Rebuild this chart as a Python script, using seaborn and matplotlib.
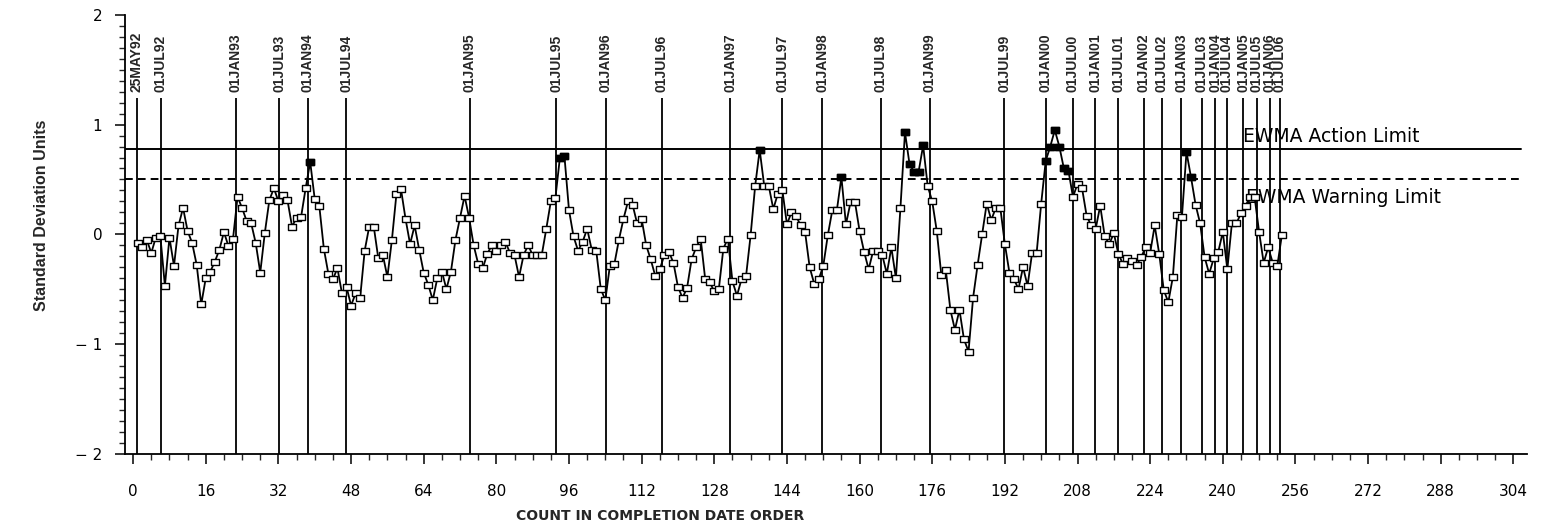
import numpy as np
import pandas as pd
import matplotlib
matplotlib.use("Agg")
import matplotlib.pyplot as plt
import seaborn as sns
from matplotlib.path import Path
from matplotlib.ticker import MultipleLocator

# ---------------- data ----------------
ewma_seg1 = [-0.08, -0.12, -0.05, -0.17, -0.03, -0.02, -0.47, -0.03, -0.29, 0.08,
             0.24, 0.03, -0.08, -0.28, -0.64, -0.40, -0.34, -0.25, -0.14, 0.02,
             -0.11, -0.04, 0.34, 0.24, 0.12, 0.10, -0.08, -0.35, 0.01, 0.31,
             0.42, 0.30, 0.36, 0.31, 0.07, 0.15, 0.16, 0.42, 0.66, 0.32, 0.26]
ewma_seg2 = [-0.13, -0.36, -0.41, -0.31, -0.54, -0.48, -0.65, -0.54, -0.58, -0.15,
             0.07, 0.07, -0.22, -0.19, -0.39, -0.05, 0.37, 0.41, 0.14, -0.09,
             0.08, -0.14, -0.35, -0.46, -0.60, -0.40, -0.34, -0.50, -0.34, -0.05,
             0.15, 0.35, 0.15, -0.10, -0.27, -0.31, -0.18, -0.10, -0.15, -0.10]
ewma_seg3 = [-0.07, -0.17, -0.19, -0.39, -0.19, -0.10, -0.19, -0.19, -0.19, 0.05,
             0.30, 0.33, 0.70, 0.71, 0.22, -0.02, -0.15, -0.07, 0.05, -0.14,
             -0.15, -0.50, -0.60, -0.29, -0.27, -0.05, 0.14, 0.30, 0.27, 0.10,
             0.14, -0.10, -0.23, -0.38, -0.32, -0.19, -0.16, -0.26, -0.48, -0.58,
             -0.49, -0.23, -0.12]
ewma_seg4 = [-0.04, -0.41, -0.44, -0.52, -0.50, -0.13, -0.04, -0.43, -0.56, -0.41,
             -0.38, -0.01, 0.44, 0.77, 0.44, 0.44, 0.23, 0.37, 0.40, 0.09,
             0.20, 0.17, 0.08, 0.02, -0.30, -0.45, -0.41, -0.29, -0.01, 0.22,
             0.22, 0.52, 0.09, 0.29, 0.29, 0.03, -0.16, -0.32, -0.15, -0.15,
             -0.19, -0.36, -0.12, -0.40, 0.24, 0.93, 0.64, 0.57, 0.57, 0.81,
             0.44, 0.30, 0.03, -0.37, -0.33, -0.69, -0.87, -0.69, -0.96, -1.07,
             -0.58, -0.28, 0.00, 0.28, 0.13, 0.24, 0.24, -0.09, -0.35, -0.41,
             -0.50, -0.30, -0.47, -0.17, -0.17, 0.28]
ewma_seg5 = [0.67, 0.80, 0.95, 0.80, 0.60, 0.58, 0.34, 0.46, 0.42, 0.17,
             0.08, 0.05, 0.26, -0.02, -0.09, 0.01, -0.18, -0.27, -0.22, -0.24,
             -0.28, -0.21, -0.12, -0.17, 0.08, -0.18, -0.51, -0.62, -0.39, 0.18,
             0.16, 0.75, 0.52, 0.27, 0.10, -0.21, -0.36, -0.22, -0.16, 0.02,
             -0.32, 0.10, 0.10, 0.19, 0.26, 0.34, 0.34, 0.02, -0.26, -0.12,
             -0.26, -0.29, -0.01]

event_counts = [0.8, 6.1, 22.6, 32.2, 38.5, 46.9, 74.1, 93.2, 104.1, 116.4,
                131.5, 143.0, 151.8, 164.7, 175.5, 191.9, 201.0, 207.0, 211.9, 217.0,
                222.6, 226.5, 230.8, 235.4, 238.3, 240.9, 244.5, 247.5, 250.3, 252.5]
event_labels = ["25MAY92", "01JUL92", "01JAN93", "01JUL93", "01JAN94", "01JUL94",
                "01JAN95", "01JUL95", "01JAN96", "01JUL96", "01JAN97", "01JUL97",
                "01JAN98", "01JUL98", "01JAN99", "01JUL99", "01JAN00", "01JUL00",
                "01JAN01", "01JUL01", "01JAN02", "01JUL02", "01JAN03", "01JUL03",
                "01JAN04", "01JUL04", "01JAN05", "01JUL05", "01JAN06", "01JUL06"]

action_limit = 0.78
warning_limit = 0.50
x_ticks = list(range(0, 305, 16))
y_ticks = [-2, -1, 0, 1, 2]
y_tick_labels = ["\u2212 2", "\u2212 1", "0", "1", "2"]

values = ewma_seg1 + ewma_seg2 + ewma_seg3 + ewma_seg4 + ewma_seg5
df = pd.DataFrame({"count": np.arange(1, len(values) + 1), "sdu": values})
df["beyond"] = df["sdu"] > warning_limit

# ---------------- style ----------------
sns.set_style("ticks")
plt.rcParams["font.family"] = ["DejaVu Sans"]
label_font = ["Liberation Sans", "DejaVu Sans"]

W, H = 1548, 524
fig = plt.figure(figsize=(W / 100, H / 100), dpi=100)
ax_l, ax_r, ax_t, ax_b = 124.5, 1527, 15, 453.5
ax = fig.add_axes([ax_l / W, 1 - ax_b / H, (ax_r - ax_l) / W, (ax_b - ax_t) / H])

rect = Path([(-1, -0.72), (1, -0.72), (1, 0.72), (-1, 0.72), (-1, -0.72)],
            [Path.MOVETO, Path.LINETO, Path.LINETO, Path.LINETO, Path.CLOSEPOLY])

# event lines and labels
ax.vlines(event_counts, -2, 1.245, color="black", lw=1.3, zorder=1)
for c, lab in zip(event_counts, event_labels):
    ax.text(c, 1.30, lab, rotation=90, ha="center", va="bottom",
            fontsize=10, family=label_font, fontweight="bold")

# limits
ax.axhline(action_limit, xmin=0, xmax=0.996, color="black", lw=1.4, zorder=1)
ax.axhline(warning_limit, xmin=0, xmax=0.996, color="black", lw=1.4,
           ls=(0, (4, 2.6)), zorder=1)
ax.text(244.5, action_limit + 0.11, "EWMA Action Limit", va="center", ha="left",
        fontsize=13.5, color="black")
ax.text(245.0, warning_limit - 0.165, "EWMA Warning Limit", va="center", ha="left",
        fontsize=13.5, color="black")

# series
sns.lineplot(data=df, x="count", y="sdu", ax=ax, color="black", lw=1.3,
             marker=rect, markersize=6, markerfacecolor="white",
             markeredgecolor="black", markeredgewidth=1.0, zorder=3)
sns.scatterplot(data=df[df["beyond"]], x="count", y="sdu", ax=ax, marker=rect,
                s=40, color="black", edgecolor="black", linewidth=1.0, zorder=4)

# axes
ax.set_xlim(-1.9, 307)
ax.set_ylim(-2, 2)
ax.set_xticks(x_ticks)
ax.xaxis.set_minor_locator(MultipleLocator(4))
ax.set_yticks(y_ticks)
ax.set_yticklabels(y_tick_labels)
ax.yaxis.set_minor_locator(MultipleLocator(0.1))
ax.tick_params(axis="both", which="major", direction="out", length=7, width=1.1,
               labelsize=11, color="black", labelcolor="black")
ax.tick_params(axis="both", which="minor", direction="out", length=4, width=1.0)
ax.tick_params(axis="x", which="major", pad=15)
ax.tick_params(axis="y", which="major", pad=9)
sns.despine(ax=ax)
for s in ("left", "bottom"):
    ax.spines[s].set_linewidth(1.3)
    ax.spines[s].set_color("black")
ax.set_xlabel("")
ax.set_ylabel("")

fig.text(42 / W, 1 - 215 / H, "Standard Deviation Units", rotation=90,
         ha="center", va="center", fontsize=11.5, fontweight="bold", family=label_font)
fig.text(660 / W, 1 - 516 / H, "COUNT IN COMPLETION DATE ORDER", ha="center",
         va="center", fontsize=10, fontweight="bold")

fig.savefig("out.png", dpi=100, facecolor="white")
